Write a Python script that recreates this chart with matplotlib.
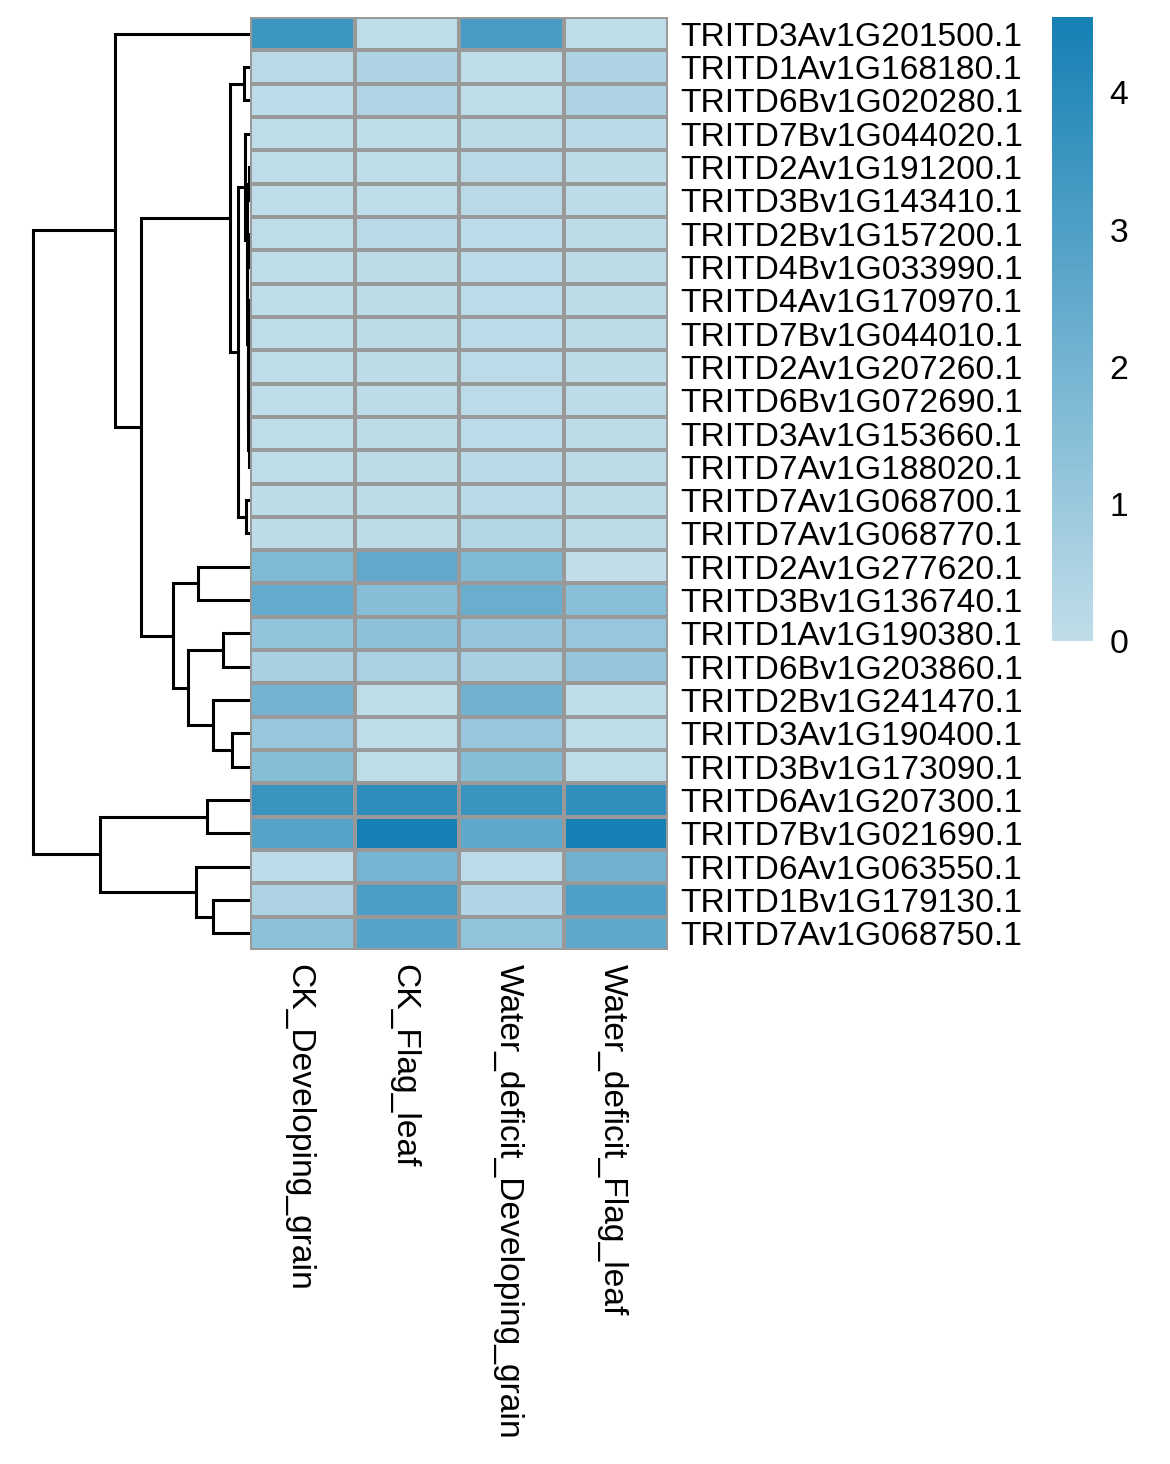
#!/usr/bin/env python3
# clustered heatmap of gene expression with a row dendrogram

import numpy as np
import matplotlib
matplotlib.use('Agg')
import matplotlib.pyplot as plt
from matplotlib.colors import LinearSegmentedColormap

plt.rcParams['font.family'] = ['Liberation Sans', 'DejaVu Sans']

# ------------------------------------
# Data (rows in display order, top to bottom)
# ------------------------------------
genes = ['TRITD3Av1G201500.1', 'TRITD1Av1G168180.1', 'TRITD6Bv1G020280.1',
         'TRITD7Bv1G044020.1', 'TRITD2Av1G191200.1', 'TRITD3Bv1G143410.1',
         'TRITD2Bv1G157200.1', 'TRITD4Bv1G033990.1', 'TRITD4Av1G170970.1',
         'TRITD7Bv1G044010.1', 'TRITD2Av1G207260.1', 'TRITD6Bv1G072690.1',
         'TRITD3Av1G153660.1', 'TRITD7Av1G188020.1', 'TRITD7Av1G068700.1',
         'TRITD7Av1G068770.1', 'TRITD2Av1G277620.1', 'TRITD3Bv1G136740.1',
         'TRITD1Av1G190380.1', 'TRITD6Bv1G203860.1', 'TRITD2Bv1G241470.1',
         'TRITD3Av1G190400.1', 'TRITD3Bv1G173090.1', 'TRITD6Av1G207300.1',
         'TRITD7Bv1G021690.1', 'TRITD6Av1G063550.1', 'TRITD1Bv1G179130.1',
         'TRITD7Av1G068750.1']

samples = ['CK_Developing_grain', 'CK_Flag_leaf',
           'Water_deficit_Developing_grain', 'Water_deficit_Flag_leaf']

ck_grain = [3.50, 0.20, 0.10, 0.05, 0.05, 0.05, 0.05, 0.05, 0.05, 0.05,
            0.05, 0.05, 0.05, 0.05, 0.08, 0.08, 1.73, 2.42, 1.22, 0.66,
            2.05, 1.06, 1.54, 3.56, 2.82, 0.10, 0.50, 1.40]
ck_leaf = [0.05, 0.48, 0.45, 0.05, 0.05, 0.05, 0.18, 0.08, 0.08, 0.08,
           0.08, 0.08, 0.08, 0.08, 0.08, 0.08, 2.55, 1.54, 1.38, 0.59,
           0.05, 0.05, 0.05, 3.88, 4.55, 2.00, 3.14, 2.85]
wd_grain = [3.20, 0.05, 0.05, 0.08, 0.18, 0.18, 0.10, 0.10, 0.12, 0.12,
            0.12, 0.12, 0.12, 0.15, 0.20, 0.35, 1.73, 2.29, 1.12, 0.66,
            2.10, 1.06, 1.54, 3.56, 2.60, 0.10, 0.40, 1.25]
wd_leaf = [0.05, 0.48, 0.50, 0.15, 0.08, 0.08, 0.08, 0.08, 0.08, 0.08,
           0.08, 0.08, 0.08, 0.08, 0.08, 0.08, 0.00, 1.50, 1.06, 1.12,
           0.05, 0.05, 0.05, 3.80, 4.55, 2.15, 3.00, 2.60]

# row clustering: (left, right, height); leaves are 0..27, new nodes 28+
merges = [
    (1, 2, 0.28),      # 28
    (4, 5, 0.05),      # 29
    (6, 7, 0.06),      # 30
    (12, 13, 0.04),    # 31
    (11, 31, 0.07),    # 32
    (9, 10, 0.05),     # 33
    (33, 32, 0.09),    # 34
    (8, 34, 0.11),     # 35
    (30, 35, 0.13),    # 36
    (29, 36, 0.16),    # 37
    (3, 37, 0.23),     # 38
    (14, 15, 0.18),    # 39
    (38, 39, 0.55),    # 40
    (28, 40, 0.92),    # 41
    (16, 17, 2.40),    # 42
    (18, 19, 1.24),    # 43
    (21, 22, 0.83),    # 44
    (20, 44, 1.71),    # 45
    (43, 45, 2.86),    # 46
    (42, 46, 3.55),    # 47
    (41, 47, 5.02),    # 48
    (0, 48, 6.22),     # 49
    (23, 24, 1.98),    # 50
    (26, 27, 1.71),    # 51
    (25, 51, 2.49),    # 52
    (50, 52, 6.91),    # 53
    (49, 53, 10.0),    # 54
]


def main():
    values = np.array([ck_grain, ck_leaf, wd_grain, wd_leaf]).T
    n_rows, n_cols = values.shape

    W, H = 1170, 1464
    fig = plt.figure(figsize=(W / 100, H / 100), dpi=100)
    fsize = 24.2

    # ------------------------------------
    # Heatmap
    # ------------------------------------
    cmap = LinearSegmentedColormap.from_list('blues', ['#c0dde9', '#1580b4'])
    ax = fig.add_axes([250 / W, 1 - 950 / H, 418 / W, 933 / H])
    ax.pcolormesh(np.arange(n_cols + 1), np.arange(n_rows + 1), values,
                  cmap=cmap, vmin=0, vmax=values.max(),
                  edgecolors='#999999', linewidth=1.6)
    ax.set_xlim(0, n_cols)
    ax.set_ylim(n_rows, 0)
    for s in ax.spines.values():
        s.set_visible(False)

    ax.yaxis.tick_right()
    ax.set_yticks(np.arange(n_rows) + 0.5)
    ax.set_yticklabels(genes, fontsize=fsize)
    ax.set_xticks(np.arange(n_cols) + 0.47)
    ax.set_xticklabels(samples, fontsize=fsize, rotation=270, ha='center', va='top')
    ax.tick_params(axis='y', length=0, pad=9)
    ax.tick_params(axis='x', length=0, pad=10)

    # ------------------------------------
    # Row dendrogram
    # ------------------------------------
    dax = fig.add_axes([22 / W, 1 - 950 / H, 228 / W, 933 / H])
    pos = {i: i + 0.5 for i in range(n_rows)}
    hgt = {i: 0.0 for i in range(n_rows)}
    for k, (a, b, h) in enumerate(merges):
        node = n_rows + k
        dax.plot([hgt[a], h, h, hgt[b]], [pos[a], pos[a], pos[b], pos[b]],
                 color='black', linewidth=2.2, solid_joinstyle='miter')
        pos[node] = (pos[a] + pos[b]) / 2
        hgt[node] = h
    root_h = max(m[2] for m in merges)
    dax.set_xlim(root_h * 1.05, 0)
    dax.set_ylim(n_rows, 0)
    dax.axis('off')

    # ------------------------------------
    # Colour legend
    # ------------------------------------
    cax = fig.add_axes([1052 / W, 1 - 641 / H, 41 / W, 624 / H])
    sm = plt.cm.ScalarMappable(cmap=cmap, norm=plt.Normalize(0, values.max()))
    cb = fig.colorbar(sm, cax=cax, ticks=[0, 1, 2, 3, 4])
    cb.outline.set_visible(False)
    cax.tick_params(length=0, pad=12, labelsize=fsize)

    fig.savefig('out.png', dpi=100)


if __name__ == '__main__':
    main()
